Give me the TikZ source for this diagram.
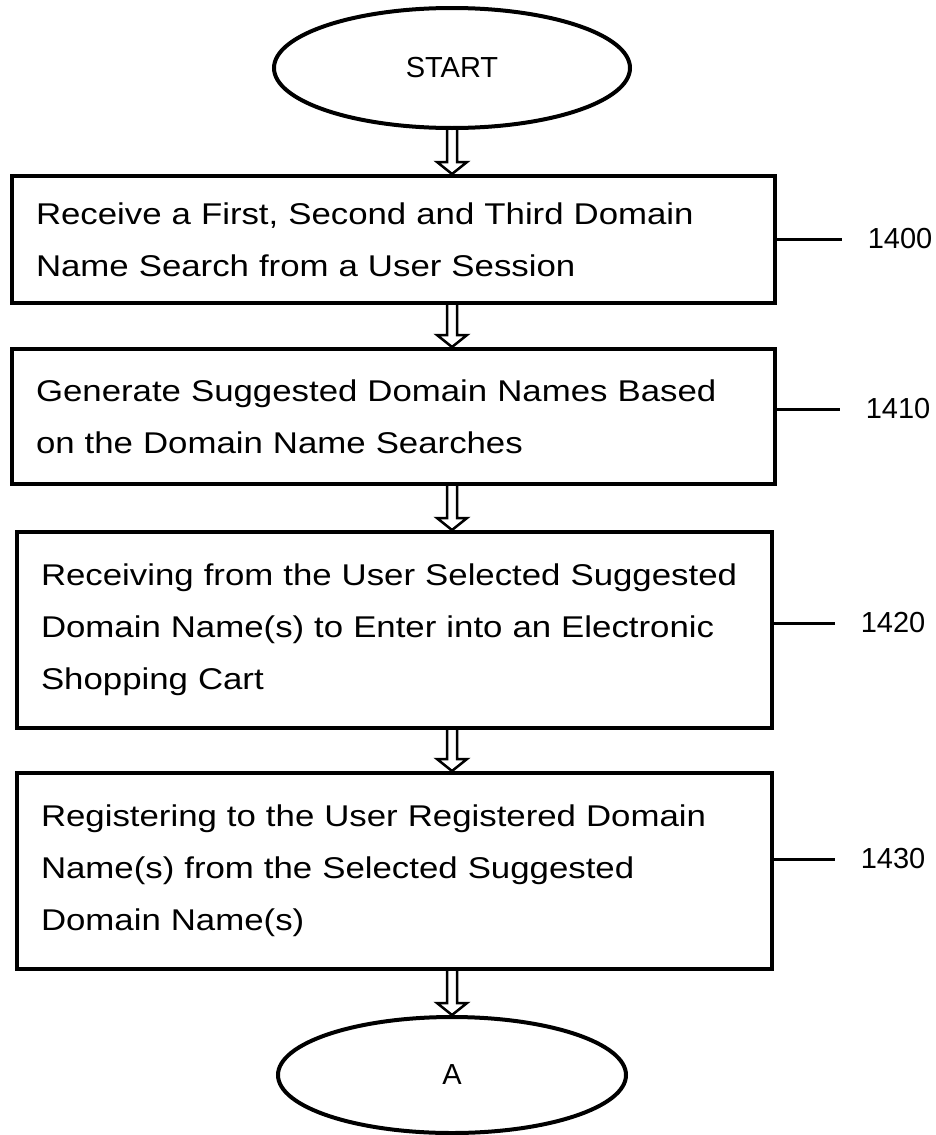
\documentclass[tikz,border=0pt]{standalone}
\usepackage{fontspec}
\setmainfont{Liberation Sans}
\newfontfamily\stepfont[FakeStretch=1.16]{Liberation Sans}
\usetikzlibrary{shapes.geometric,calc}

\begin{document}
\begin{tikzpicture}[x = 1pt, y = -1pt,
        every node/.style={inner sep=0pt},
        every path/.style={line width=4pt}
]
\tikzstyle{terminal}= [draw, ellipse, font=\fontsize{29}{32}\selectfont]
\tikzstyle{block}= [draw, rectangle, align=left, inner xsep=24pt, font=\stepfont\fontsize{30}{52}\selectfont]
\tikzstyle{refnum}= [font=\fontsize{29}{32}\selectfont]
\tikzstyle{dblarr}= [line width=2.5pt, line join=miter, to path={let \p1=(\tikztostart), \p2=(\tikztotarget) in
    (\x1-5pt,\y1) -- (\x1-5pt,\y2+12pt) -- (\x1-15pt,\y2+12pt) -- (\x1,\y2) -- (\x1+15pt,\y2+12pt) -- (\x1+5pt,\y2+12pt) -- (\x1+5pt,\y1)}]
\tikzstyle{leader}= [line width=3pt, shorten >=24pt]
    \useasboundingbox (0,0) rectangle (936,1135);

    \node[terminal, minimum width=356, minimum height=120] (start) at (452,68) {START};
    \node[block, minimum width=763, minimum height=127, text width=715] (b1) at (393.5,239.5)
        {Receive a First, Second and Third Domain\\Name Search from a User Session};
    \node[block, minimum width=763, minimum height=135, text width=715] (b2) at (393.5,416.5)
        {Generate Suggested Domain Names Based\\on the Domain Name Searches};
    \node[block, minimum width=755, minimum height=196, text width=707] (b3) at (394.5,630)
        {Receiving from the User Selected Suggested\\Domain Name(s) to Enter into an Electronic\\Shopping Cart};
    \node[block, minimum width=755, minimum height=196, text width=707] (b4) at (394.5,871)
        {Registering to the User Registered Domain\\Name(s) from the Selected Suggested\\Domain Name(s)};
    \node[terminal, minimum width=348, minimum height=116] (a) at (452,1075) {A};

    \node[refnum] (n1400) at (900,239) {1400};
    \node[refnum] (n1410) at (898,409) {1410};
    \node[refnum] (n1420) at (893,623) {1420};
    \node[refnum] (n1430) at (893,859) {1430};

    \draw[dblarr] (start.south) to (start.south |- b1.north);
    \draw[dblarr] (b1.south -| start) to (b2.north -| start);
    \draw[dblarr] (b2.south -| start) to (b3.north -| start);
    \draw[dblarr] (b3.south -| start) to (b4.north -| start);
    \draw[dblarr] (b4.south -| start) to (a.north);

    \draw[leader] (b1.east |- n1400) -- (n1400.west);
    \draw[leader] (b2.east |- n1410) -- (n1410.west);
    \draw[leader] (b3.east |- n1420) -- (n1420.west);
    \draw[leader] (b4.east |- n1430) -- (n1430.west);

\end{tikzpicture}
\end{document}
